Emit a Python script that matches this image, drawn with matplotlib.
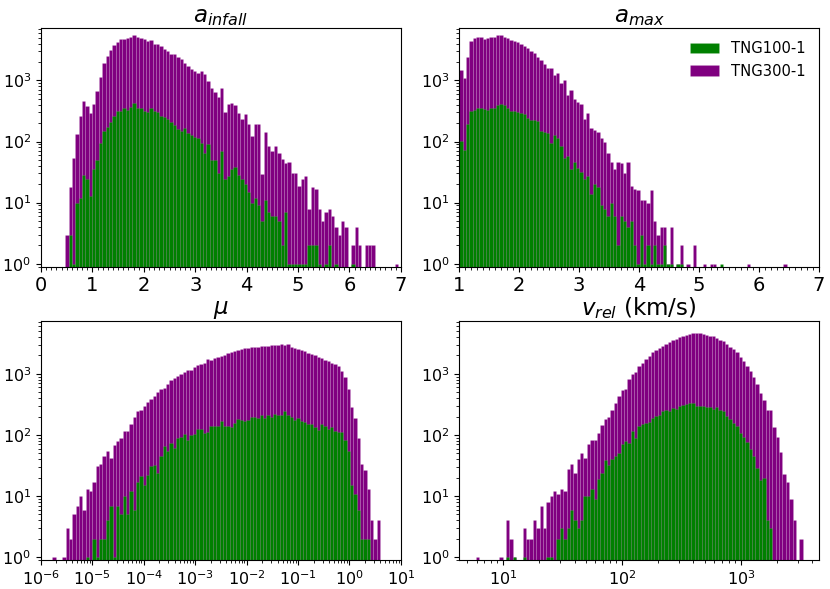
import numpy as np
import matplotlib
matplotlib.use("Agg")
import matplotlib.pyplot as plt
from matplotlib.ticker import MultipleLocator

# first / last bin edge of each histogram (log10 for the log panels)
ainfall_range = (0.47, 6.95)
amax_range = (1.0, 6.46)
mu_range = (-5.78, 0.595)
vrel_range = (0.77, 3.52)

# bin counts
ainfall_tng300 = [
    3, 18, 53, 132, 265, 460, 380, 290, 405, 670, 1150, 1900, 2500, 3100, 3800,
    4270, 4700, 4800, 4900, 5100, 5500, 5100, 5000, 4800, 4400, 4500, 4000, 3900,
    3650, 3300, 3000, 2750, 2700, 2400, 2200, 1900, 1700, 1550, 1400, 1300, 1400,
    1250, 980, 760, 650, 540, 760, 300, 405, 420, 390, 290, 235, 280, 190, 124,
    190, 190, 29, 145, 83, 69, 83, 65, 52, 44, 46, 30, 30, 19, 24, 27, 8, 18, 17,
    8, 5, 7, 8, 6, 4, 3, 5, 4, 0, 2, 4, 2, 0, 2, 2, 2, 0, 0, 0, 0, 0, 0, 1]
ainfall_tng100 = [
    0, 3, 1, 10, 12, 28, 24, 13, 35, 50, 94, 150, 175, 210, 265, 310, 320, 360,
    330, 370, 420, 360, 350, 320, 300, 350, 320, 300, 265, 250, 235, 210, 185, 160,
    150, 165, 137, 128, 120, 113, 94, 65, 90, 50, 50, 30, 70, 24, 27, 36, 38, 28,
    24, 20, 15, 10, 12, 9, 5, 11, 7, 6, 6, 5, 2, 7, 1, 1, 1, 1, 1, 1, 2, 2, 2, 1,
    0, 1, 2, 0, 1, 0, 0, 0, 0, 1, 0, 0, 0, 0, 0, 0, 0, 0, 0, 0, 0, 0, 0]

amax_tng300 = [
    1480, 1080, 2370, 4370, 4970, 5150, 5150, 4700, 4970, 5100, 5200, 5500, 5600,
    5150, 4970, 4550, 4450, 4270, 4000, 3700, 3400, 3000, 2850, 2450, 2150, 1820,
    1620, 1580, 1230, 1300, 890, 1000, 575, 700, 500, 440, 410, 235, 290, 165, 155,
    145, 115, 100, 65, 47, 36, 47, 45, 30, 46, 19, 17, 16, 11, 11, 10, 16, 5, 3, 4,
    4, 1, 4, 0, 1, 2, 0, 1, 0, 2, 0, 0, 1, 0, 1, 1, 0, 0, 0, 0, 0, 0, 0, 0, 0, 1,
    0, 0, 0, 0, 0, 0, 0, 0, 0, 0, 1]
amax_tng100 = [
    102, 73, 190, 310, 330, 350, 350, 340, 330, 360, 360, 390, 410, 400, 350, 320,
    320, 300, 290, 280, 245, 225, 225, 215, 150, 145, 137, 94, 128, 113, 86, 53,
    59, 36, 47, 37, 32, 24, 27, 14, 20, 18, 9, 8, 6, 10, 6, 2, 6, 5, 4, 5, 2, 1, 3,
    1, 2, 1, 2, 1, 1, 2, 1, 1, 0, 1, 1, 0, 0, 0, 0, 0, 0, 0, 0, 0, 0, 0, 1, 0, 0,
    0, 0, 0, 0, 0, 0, 0, 0, 0, 0, 0, 0, 0, 0, 0, 0, 0]

mu_tng300 = [
    1, 0, 0, 1, 3, 2, 5, 7, 10, 6, 13, 12, 17, 31, 34, 45, 55, 42, 68, 80, 90, 115,
    115, 150, 200, 245, 255, 295, 340, 390, 440, 500, 560, 590, 680, 780, 850, 920,
    1000, 1070, 1140, 1140, 1280, 1400, 1450, 1530, 1730, 1690, 1800, 1920, 1980,
    2050, 2200, 2250, 2350, 2500, 2550, 2600, 2650, 2750, 2800, 2800, 2850, 2850,
    2900, 2960, 2960, 3000, 3100, 3000, 3100, 2800, 2650, 2550, 2500, 2350, 2200,
    2150, 2000, 1900, 1850, 1700, 1600, 1500, 1450, 1320, 1120, 890, 570, 290, 190,
    90, 34, 27, 13, 4, 2, 4]
mu_tng100 = [
    0, 0, 0, 0, 0, 0, 0, 0, 0, 0, 1, 0, 2, 1, 2, 2, 4, 7, 1, 7, 5, 10, 5, 12, 6, 17,
    21, 15, 22, 31, 32, 24, 46, 65, 55, 73, 62, 88, 92, 105, 82, 100, 105, 123, 123,
    108, 110, 142, 140, 142, 167, 142, 142, 137, 155, 180, 176, 172, 176, 195, 200,
    190, 210, 192, 215, 195, 220, 215, 210, 245, 215, 195, 176, 190, 170, 160, 150,
    150, 135, 120, 150, 140, 125, 135, 118, 110, 113, 84, 55, 15, 11, 6, 2, 2, 2,
    0, 0, 0]

vrel_tng300 = [
    1, 0, 0, 0, 0, 0, 0, 1, 0, 4, 2, 1, 0, 0, 3, 2, 2, 4, 3, 7, 3, 8, 10, 12, 11,
    13, 12, 28, 34, 24, 41, 51, 42, 70, 83, 83, 108, 143, 184, 198, 255, 335, 430,
    550, 555, 810, 980, 1070, 1330, 1510, 1720, 1990, 2240, 2450, 2660, 2900, 3130,
    3300, 3540, 3720, 3960, 4200, 4360, 4530, 4640, 4640, 4640, 4530, 4360, 4200,
    4090, 3850, 3620, 3400, 3130, 2800, 2540, 2240, 1890, 1610, 1330, 1100, 890,
    670, 480, 380, 255, 255, 136, 94, 53, 23, 17, 9, 4, 0, 2]
vrel_tng100 = [
    0, 0, 0, 0, 0, 0, 0, 0, 0, 1, 0, 1, 0, 0, 1, 0, 0, 0, 0, 0, 0, 1, 1, 0, 2, 3,
    2, 3, 6, 4, 3, 4, 10, 10, 13, 9, 19, 24, 39, 32, 41, 45, 50, 70, 80, 73, 116,
    88, 140, 153, 155, 163, 192, 203, 216, 245, 252, 245, 280, 262, 295, 307, 323,
    335, 335, 303, 295, 303, 290, 285, 262, 290, 255, 245, 203, 184, 158, 140, 109,
    94, 77, 60, 46, 29, 18, 20, 4, 3, 0, 0, 0, 0, 0, 0, 0, 0, 0]

seam = (1, 1, 1, 0.12)


def draw(ax, rng, tng300, tng100, title, logx=False):
    n = len(tng300)
    if logx:
        edges = np.logspace(rng[0], rng[1], n + 1)
        ax.set_xscale("log")
    else:
        edges = np.linspace(rng[0], rng[1], n + 1)
    mids = 0.5 * (edges[1:] + edges[:-1])
    ax.hist(mids, bins=edges, weights=tng300, color="purple", log=True,
            edgecolor=seam, linewidth=0.5, label="TNG300-1")
    ax.hist(mids, bins=edges, weights=tng100, color="green", log=True,
            edgecolor=seam, linewidth=0.5, label="TNG100-1")
    ax.set_title(title, fontsize=16.5, pad=4)
    ax.set_ylim(0.9, 7200)
    ax.tick_params(axis="y", labelsize=11.5)
    ax.tick_params(axis="x", labelsize=11.5 if logx else 14)
    if not logx:
        ax.xaxis.set_major_locator(MultipleLocator(1))
        ax.xaxis.set_minor_locator(MultipleLocator(0.1))


fig, ax = plt.subplots(2, 2, figsize=(8.3, 5.89), dpi=100)
fig.subplots_adjust(left=0.0494, right=0.9868, bottom=0.0492, top=0.9525,
                    wspace=0.162, hspace=0.23)

draw(ax[0, 0], ainfall_range, ainfall_tng300, ainfall_tng100, "$a_{infall}$")
ax[0, 0].set_xlim(0, 7)

draw(ax[0, 1], amax_range, amax_tng300, amax_tng100, "$a_{max}$")
ax[0, 1].set_xlim(1, 7)
handles, labels = ax[0, 1].get_legend_handles_labels()
ax[0, 1].legend(handles[::-1], labels[::-1], loc="upper right",
                frameon=False, fontsize=10.6)

draw(ax[1, 0], mu_range, mu_tng300, mu_tng100, r"$\mu$", logx=True)
ax[1, 0].set_xlim(1e-6, 1e1)

draw(ax[1, 1], vrel_range, vrel_tng300, vrel_tng100, "$v_{rel}$ (km/s)",
     logx=True)

fig.savefig("out.png", dpi=100)
